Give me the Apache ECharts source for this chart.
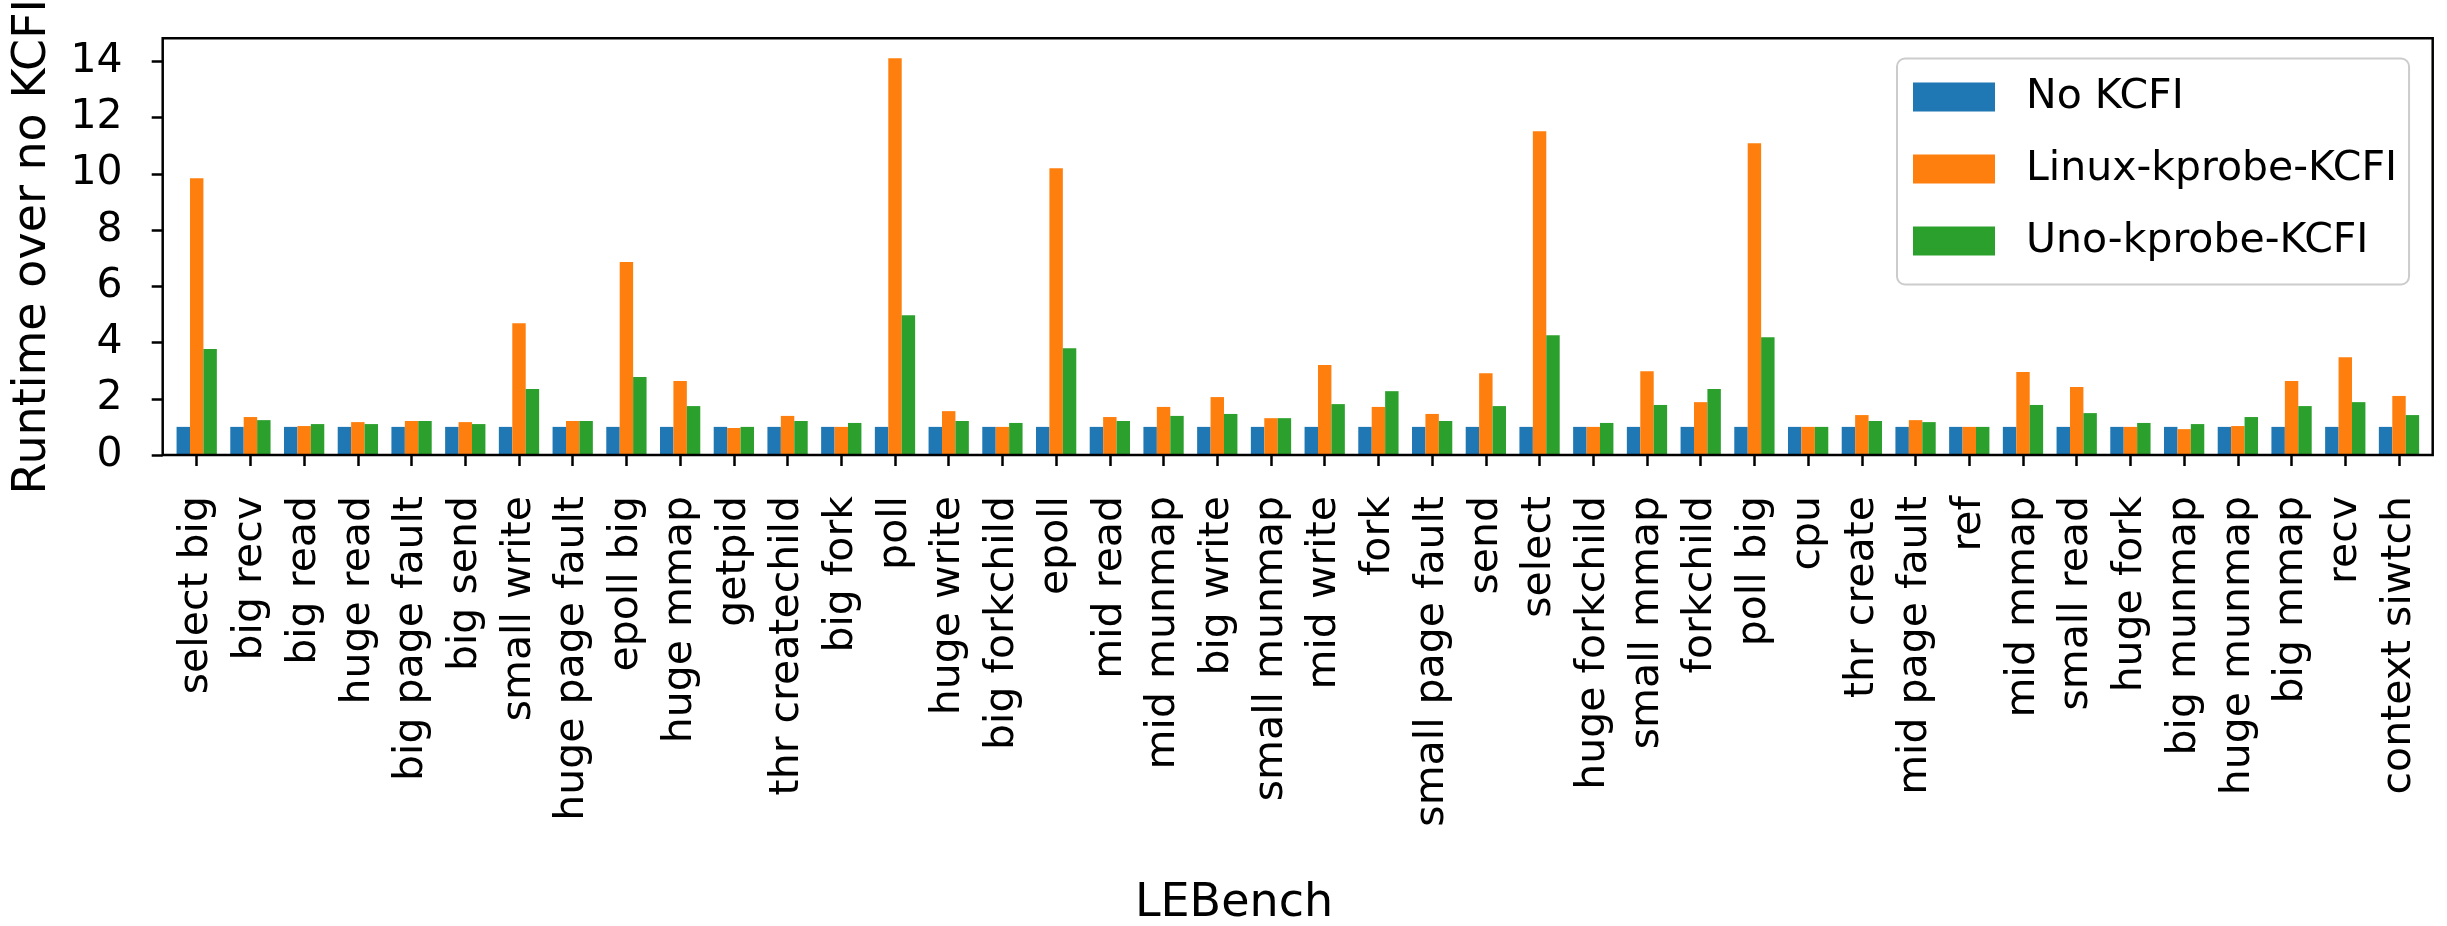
<!DOCTYPE html>
<html>
<head>
<meta charset="utf-8">
<title>LEBench runtime over no KCFI</title>
<script src="https://cdn.jsdelivr.net/npm/echarts@6/dist/echarts.min.js"></script>
<style>
  html, body { margin: 0; padding: 0; background: #ffffff; }
  #chart { width: 2447px; height: 926px; }
</style>
</head>
<body>
<div id="chart"></div>
<script>
// LEBench micro-benchmarks, in plotting order
const categories = [
  'select big', 'big recv', 'big read', 'huge read', 'big page fault', 'big send',
  'small write', 'huge page fault', 'epoll big', 'huge mmap', 'getpid', 'thr createchild',
  'big fork', 'poll', 'huge write', 'big forkchild', 'epoll', 'mid read', 'mid munmap',
  'big write', 'small munmap', 'mid write', 'fork', 'small page fault', 'send', 'select',
  'huge forkchild', 'small mmap', 'forkchild', 'poll big', 'cpu', 'thr create',
  'mid page fault', 'ref', 'mid mmap', 'small read', 'huge fork', 'big munmap',
  'huge munmap', 'big mmap', 'recv', 'context siwtch'
];

// Runtime normalised to the kernel without KCFI
const noKcfi = [
  1, 1, 1, 1, 1, 1, 1, 1, 1, 1, 1, 1, 1, 1, 1, 1, 1, 1, 1, 1, 1,
  1, 1, 1, 1, 1, 1, 1, 1, 1, 1, 1, 1, 1, 1, 1, 1, 1, 1, 1, 1, 1
];
const linuxKprobeKcfi = [
  9.84, 1.35, 1.03, 1.17, 1.21, 1.17, 4.69, 1.21, 6.86, 2.63, 0.96, 1.39, 1.00, 14.11,
  1.56, 1.00, 10.20, 1.35, 1.71, 2.06, 1.31, 3.20, 1.71, 1.46, 2.91, 11.51, 1.00, 2.98,
  1.88, 11.09, 1.00, 1.42, 1.24, 1.00, 2.95, 2.42, 1.00, 0.92, 1.03, 2.63, 3.48, 2.10
];
const unoKprobeKcfi = [
  3.77, 1.24, 1.10, 1.10, 1.21, 1.10, 2.35, 1.21, 2.77, 1.74, 1.00, 1.21, 1.14, 4.97,
  1.21, 1.14, 3.80, 1.21, 1.39, 1.46, 1.31, 1.81, 2.27, 1.21, 1.74, 4.26, 1.14, 1.78,
  2.35, 4.19, 1.00, 1.21, 1.17, 1.00, 1.78, 1.49, 1.14, 1.10, 1.35, 1.74, 1.88, 1.42
];

const seriesNames = ['No KCFI', 'Linux-kprobe-KCFI', 'Uno-kprobe-KCFI'];
const yTicks = [0, 2, 4, 6, 8, 10, 12, 14];
const yMax = 14.82;

const FONT = 'DejaVu Sans';
const colors = ['#1f77b4', '#ff7f0e', '#2ca02c'];

// Axes box (the frame drawn around the plot)
const frame = { left: 162.7, top: 38.3, right: 2432.7, bottom: 455 };
// Category bands sit slightly inside the frame
const bandLeft = 169.85, bandWidth = 2256;

const chart = echarts.init(document.getElementById('chart'), null, { renderer: 'canvas' });

chart.setOption({
  animation: false,
  backgroundColor: '#ffffff',
  color: colors,
  textStyle: { fontFamily: FONT, color: '#000' },
  grid: {
    left: bandLeft,
    top: frame.top,
    width: bandWidth,
    height: frame.bottom - frame.top,
    containLabel: false
  },
  legend: {
    data: seriesNames,
    orient: 'vertical',
    left: 1897,
    top: 58.5,
    padding: [18, 12, 23, 16],
    itemWidth: 82,
    itemHeight: 29,
    itemGap: 31,
    icon: 'rect',
    backgroundColor: 'rgba(255,255,255,0.8)',
    borderColor: '#cccccc',
    borderWidth: 2,
    borderRadius: 8,
    textStyle: {
      fontFamily: FONT,
      fontSize: 41,
      color: '#000',
      lineHeight: 29,
      padding: [0, 0, 0, 26]
    }
  },
  xAxis: {
    type: 'category',
    data: categories,
    axisLine: { show: false },
    axisTick: {
      show: true,
      alignWithLabel: true,
      length: 11,
      lineStyle: { color: '#000', width: 2.5 }
    },
    axisLabel: {
      interval: 0,
      rotate: 90,
      margin: 41,
      fontFamily: FONT,
      fontSize: 41,
      color: '#000'
    },
    splitLine: { show: false }
  },
  yAxis: {
    type: 'value',
    min: 0,
    max: yMax,
    offset: bandLeft - frame.left,
    axisLine: { show: false },
    axisTick: {
      show: true,
      length: 11,
      customValues: yTicks,
      lineStyle: { color: '#000', width: 2.5 }
    },
    axisLabel: {
      customValues: yTicks,
      margin: 40,
      fontFamily: FONT,
      fontSize: 41,
      color: '#000'
    },
    splitLine: { show: false }
  },
  series: [
    { name: seriesNames[0], type: 'bar', data: noKcfi, barWidth: '25%', barGap: '0%' },
    { name: seriesNames[1], type: 'bar', data: linuxKprobeKcfi, barWidth: '25%', barGap: '0%' },
    { name: seriesNames[2], type: 'bar', data: unoKprobeKcfi, barWidth: '25%', barGap: '0%' }
  ],
  graphic: [
    {
      type: 'rect',
      z: 100,
      shape: {
        x: frame.left,
        y: frame.top,
        width: frame.right - frame.left,
        height: frame.bottom - frame.top
      },
      style: { fill: 'none', stroke: '#000', lineWidth: 2.5 },
      silent: true
    },
    {
      type: 'text',
      z: 100,
      x: 33.5,
      y: (frame.top + frame.bottom) / 2,
      rotation: Math.PI / 2,
      style: {
        text: 'Runtime over no KCFI',
        fontFamily: FONT,
        fontSize: 46,
        fill: '#000',
        align: 'center',
        verticalAlign: 'middle',
        textAlign: 'center',
        textVerticalAlign: 'middle'
      }
    },
    {
      type: 'text',
      z: 100,
      x: 1234,
      y: 904,
      style: {
        text: 'LEBench',
        fontFamily: FONT,
        fontSize: 46,
        fill: '#000',
        align: 'center',
        verticalAlign: 'middle',
        textAlign: 'center',
        textVerticalAlign: 'middle'
      }
    }
  ]
});
</script>
</body>
</html>
